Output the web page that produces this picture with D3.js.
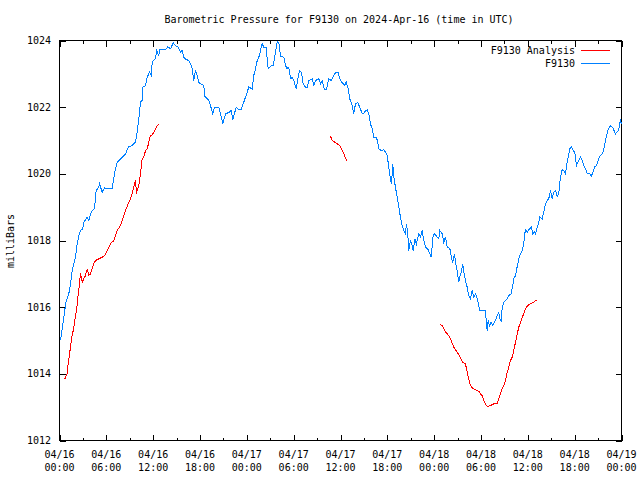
<!DOCTYPE html>
<html>
<head>
<meta charset="utf-8">
<script src="https://cdn.jsdelivr.net/npm/d3@7"></script>
<style>
html,body{margin:0;padding:0;background:#fff;}
svg{display:block;}
text{font-family:"DejaVu Sans Mono","Liberation Mono",monospace;font-size:10px;fill:#000;}
</style>
</head>
<body>
<svg id="chart" width="640" height="480"></svg>
<script>
// ---- data (hours since 2024-04-16 00:00 UTC) ----
const chartTitle = "Barometric Pressure for F9130 on 2024-Apr-16 (time in UTC)";
const yLabel = "milliBars";
const seriesNames = ["F9130 Analysis", "F9130"];
const seriesColors = ["#ff0000", "#0080ff"];
const startTime = Date.UTC(2024, 3, 16, 0, 0);
const endTime = Date.UTC(2024, 3, 19, 0, 0);
const yTicks = [1012, 1014, 1016, 1018, 1020, 1022, 1024];

const obsHours = [0.13,0.68,0.77,1.19,1.41,1.63,2.05,2.27,2.47,2.69,2.98,3.11,3.55,3.75,3.97,4.19,4.48,4.61,4.70,5.03,5.12,5.47,5.80,5.89,6.75,6.83,7.08,7.39,8.03,8.46,8.80,9.31,9.74,9.95,10.16,10.38,10.59,10.67,11.02,11.24,11.53,11.75,11.88,12.13,12.30,12.43,12.72,12.85,13.58,13.87,14.22,14.57,14.86,15.21,15.50,15.72,15.92,16.23,16.56,16.78,17.00,17.20,17.42,17.64,17.85,18.06,18.49,18.58,19.13,19.34,19.64,19.86,20.41,20.63,20.92,21.27,21.78,22.00,22.20,22.64,22.97,23.28,23.83,24.25,24.69,24.89,25.11,25.33,25.62,25.84,25.97,26.17,26.48,26.61,26.74,27.12,27.38,27.67,27.89,28.09,28.31,28.73,28.95,29.17,29.30,29.46,29.59,29.81,30.02,30.32,30.53,30.75,31.00,31.22,31.51,31.73,31.94,32.37,32.58,32.80,33.22,33.44,33.65,33.95,34.20,34.50,34.81,35.01,35.36,35.70,36.00,36.34,36.51,36.73,36.98,37.19,37.50,37.70,37.92,38.21,38.47,38.78,38.98,39.20,39.42,39.62,39.84,40.06,40.26,40.61,40.78,40.90,41.21,41.54,41.76,41.98,42.19,42.40,42.53,42.70,42.83,43.04,43.26,43.47,43.68,43.90,44.11,44.32,44.45,44.62,44.75,44.97,45.18,45.31,45.52,45.73,46.03,46.25,46.46,46.67,46.89,47.18,47.44,47.62,47.87,48.08,48.39,48.59,48.72,49.03,49.23,49.45,49.67,49.87,50.09,50.22,50.38,50.60,50.73,50.95,51.15,51.28,51.46,51.67,51.79,52.01,52.23,52.43,52.65,52.87,53.07,53.29,53.59,53.84,54.57,54.70,54.79,54.92,55.09,55.30,55.51,55.85,56.07,56.28,56.40,56.58,56.71,56.92,57.26,57.56,57.86,58.03,58.20,58.42,58.64,58.84,59.06,59.28,59.48,59.61,59.70,59.92,60.12,60.47,60.63,60.85,60.98,61.20,61.40,61.53,61.84,62.04,62.26,62.48,62.68,62.90,63.12,63.32,63.54,63.76,63.96,64.09,64.27,64.40,64.60,64.82,65.04,65.17,65.37,65.55,65.81,66.01,66.23,66.40,66.74,66.96,67.16,67.38,67.60,67.93,68.11,68.36,68.53,68.79,69.09,69.30,69.60,69.82,70.04,70.24,70.59,70.85,71.23,71.61,71.86,72.0];
const obsValues = [1015.0,1015.9,1016.1,1016.4,1016.7,1017.1,1017.5,1017.9,1018.15,1018.3,1018.35,1018.55,1018.7,1018.6,1018.8,1018.9,1018.95,1019.3,1019.5,1019.6,1019.7,1019.45,1019.6,1019.55,1019.55,1019.7,1020.05,1020.35,1020.5,1020.6,1020.8,1020.85,1020.95,1021.25,1021.65,1022.15,1022.2,1022.6,1022.65,1022.9,1023.05,1022.95,1023.35,1023.43,1023.45,1023.7,1023.55,1023.73,1023.73,1023.81,1023.75,1023.93,1023.85,1023.8,1023.65,1023.7,1023.5,1023.43,1023.4,1023.3,1023.15,1022.8,1023.1,1022.95,1022.75,1022.7,1022.65,1022.33,1022.2,1022.05,1021.8,1022.0,1022.0,1021.8,1021.5,1021.8,1021.85,1021.9,1021.63,1022.0,1021.93,1021.93,1022.3,1022.6,1022.55,1022.95,1023.15,1023.4,1023.55,1023.8,1023.9,1023.8,1023.8,1023.45,1023.15,1023.25,1023.25,1023.65,1023.97,1023.95,1023.53,1023.5,1023.25,1023.15,1023.2,1023.1,1022.85,1022.9,1022.8,1022.55,1022.85,1023.1,1023.05,1022.7,1022.6,1022.6,1022.8,1022.85,1022.65,1022.8,1022.85,1022.7,1022.8,1022.53,1022.53,1022.85,1022.8,1022.9,1023.03,1023.03,1022.8,1022.7,1022.65,1022.75,1022.55,1022.25,1022.05,1021.8,1022.1,1022.13,1022.0,1021.8,1021.8,1021.9,1021.92,1021.8,1021.5,1021.35,1021.1,1021.08,1020.95,1020.75,1020.7,1020.72,1020.65,1020.55,1020.2,1019.85,1019.7,1020.3,1019.9,1019.6,1019.3,1019.0,1018.7,1018.45,1018.3,1018.2,1018.5,1018.2,1017.7,1018.0,1017.85,1017.7,1018.05,1017.9,1018.2,1018.1,1018.3,1018.0,1017.8,1017.75,1017.6,1017.5,1018.15,1018.2,1018.1,1018.05,1018.3,1018.2,1017.95,1018.1,1017.8,1017.8,1017.7,1017.45,1017.35,1017.6,1017.35,1017.1,1016.75,1016.9,1017.05,1017.3,1017.05,1016.8,1016.6,1016.35,1016.25,1016.5,1016.3,1016.4,1016.2,1015.9,1015.9,1015.5,1015.3,1015.6,1015.45,1015.55,1015.45,1015.6,1015.75,1015.85,1015.65,1015.6,1015.95,1016.15,1016.22,1016.35,1016.4,1016.6,1016.85,1016.95,1017.22,1017.45,1017.6,1017.7,1017.9,1018.2,1018.32,1018.25,1018.32,1018.4,1018.2,1018.25,1018.2,1018.4,1018.55,1018.7,1018.65,1018.85,1019.1,1019.2,1019.25,1019.5,1019.25,1019.45,1019.5,1019.32,1019.4,1019.75,1020.0,1020.12,1020.1,1020.0,1020.35,1020.5,1020.75,1020.82,1020.7,1020.65,1020.25,1020.35,1020.5,1020.4,1020.25,1020.15,1020.02,1020.0,1019.92,1020.05,1020.2,1020.25,1020.45,1020.55,1020.62,1020.85,1021.1,1021.3,1021.45,1021.4,1021.2,1021.3,1021.6,1021.5];

// analysis series: null values mark gaps
const anaHours = [0.68,0.99,1.11,1.32,1.54,1.76,1.96,2.14,2.27,2.40,2.56,2.69,2.91,3.11,3.33,3.55,3.75,3.97,4.19,4.39,4.61,5.03,5.47,5.80,6.11,6.53,6.96,7.17,7.39,7.81,8.03,8.24,8.46,8.80,9.10,9.31,9.52,9.74,9.86,9.95,10.16,10.38,10.59,10.80,11.02,11.24,11.44,11.66,11.88,12.08,12.30,12.52,12.81,
  20.0,
  34.72,34.93,35.27,35.58,35.91,36.22,36.42,36.64,36.86,
  42.0,
  48.72,49.03,49.23,49.58,49.87,50.18,50.51,50.86,51.15,51.37,51.67,52.01,52.23,52.43,52.65,52.87,53.29,53.71,53.93,54.15,54.36,54.66,54.92,55.21,55.64,56.07,56.28,56.49,56.71,56.92,57.14,57.36,57.56,57.78,57.99,58.20,58.42,58.64,58.84,59.06,59.28,59.48,59.70,59.99,60.34,60.76,60.98,61.23];
const anaValues = [1013.85,1014.0,1014.3,1014.65,1015.05,1015.3,1015.6,1015.85,1016.1,1016.4,1016.7,1017.02,1016.75,1016.85,1016.95,1017.15,1016.95,1017.0,1017.15,1017.3,1017.4,1017.45,1017.5,1017.55,1017.7,1017.9,1018.0,1018.15,1018.3,1018.45,1018.6,1018.75,1018.9,1019.1,1019.25,1019.4,1019.6,1019.8,1019.4,1019.5,1019.65,1020.0,1020.45,1020.5,1020.7,1020.75,1020.95,1021.15,1021.17,1021.25,1021.35,1021.45,1021.5,
  null,
  1021.13,1021.0,1020.95,1020.9,1020.85,1020.7,1020.6,1020.47,1020.38,
  null,
  1015.48,1015.45,1015.35,1015.22,1015.15,1015.0,1014.8,1014.68,1014.58,1014.48,1014.35,1014.3,1014.05,1013.85,1013.65,1013.58,1013.52,1013.48,1013.4,1013.35,1013.2,1013.05,1013.02,1013.05,1013.1,1013.12,1013.25,1013.4,1013.55,1013.65,1013.8,1014.05,1014.2,1014.4,1014.5,1014.7,1014.95,1015.2,1015.4,1015.55,1015.7,1015.8,1015.95,1016.05,1016.1,1016.15,1016.2,1016.22];

// ---- layout ----
const svg = d3.select("#chart");
const L = 59.5, R = 621.5, T = 40.5, B = 440.5;
const HOUR = 3600 * 1000;

const x = d3.scaleUtc().domain([new Date(startTime), new Date(endTime)]).range([L, R]);
const y = d3.scaleLinear().domain([1012, 1024]).range([B, T]);

const toDate = h => new Date(startTime + h * HOUR);
const obs = obsHours.map((h, i) => ({t: toDate(h), v: obsValues[i]}));
const ana = anaHours.map((h, i) => ({t: toDate(h), v: anaValues[i]}));

// title
svg.append("text").attr("x", 339).attr("y", 23).attr("text-anchor", "middle").text(chartTitle);

// y label
svg.append("text").attr("transform", "translate(14,241) rotate(-90)")
  .attr("text-anchor", "middle").text(yLabel);

const majorTicks = d3.utcHour.every(6).range(new Date(startTime), new Date(endTime + 1));
const minorTicks = d3.utcHour.every(3).range(new Date(startTime), new Date(endTime + 1))
  .filter(d => d.getUTCHours() % 6 !== 0);

// axes with inward ticks
const gAxes = svg.append("g").attr("shape-rendering", "crispEdges").attr("stroke", "#000").attr("stroke-width", 1);
const bottomAxis = d3.axisBottom(x).tickValues(majorTicks).tickSize(-6).tickFormat("");
const bottomMinor = d3.axisBottom(x).tickValues(minorTicks).tickSize(-3).tickFormat("");
const topAxis = d3.axisTop(x).tickValues(majorTicks).tickSize(-6).tickFormat("");
const topMinor = d3.axisTop(x).tickValues(minorTicks).tickSize(-3).tickFormat("");
const leftAxis = d3.axisLeft(y).tickValues(yTicks).tickSize(-6).tickFormat("");
const rightAxis = d3.axisRight(y).tickValues(yTicks).tickSize(-6).tickFormat("");

[[bottomAxis, `translate(0,${B})`], [bottomMinor, `translate(0,${B})`],
 [topAxis, `translate(0,${T})`], [topMinor, `translate(0,${T})`],
 [leftAxis, `translate(${L},0)`], [rightAxis, `translate(${R},0)`]].forEach(([ax, tr]) => {
  const g = gAxes.append("g").attr("transform", tr).call(ax);
  g.select(".domain").remove();
  g.selectAll(".tick line").attr("stroke", "#000");
});

gAxes.append("rect").attr("x", L).attr("y", T).attr("width", R - L).attr("height", B - T)
  .attr("fill", "none").attr("stroke", "#000");

// x tick labels (two lines)
const fmtD = d3.utcFormat("%m/%d"), fmtT = d3.utcFormat("%H:%M");
const xl = svg.append("g").selectAll("text").data(majorTicks).join("text")
  .attr("text-anchor", "middle").attr("x", d => x(d));
xl.append("tspan").attr("x", d => x(d)).attr("y", 458).text(fmtD);
xl.append("tspan").attr("x", d => x(d)).attr("y", 471).text(fmtT);

// y tick labels
svg.append("g").selectAll("text").data(yTicks).join("text")
  .attr("text-anchor", "end").attr("x", 51).attr("y", d => y(d) + 3.5).text(d => d);

// clip
svg.append("clipPath").attr("id", "clip").append("rect")
  .attr("x", L).attr("y", T - 1).attr("width", R - L + 1).attr("height", B - T + 2);

const line = d3.line().defined(d => d.v !== null).x(d => x(d.t)).y(d => y(d.v));
const gLines = svg.append("g").attr("clip-path", "url(#clip)");
gLines.append("path").datum(ana).attr("d", line).attr("fill", "none")
  .attr("stroke", seriesColors[0]).attr("stroke-width", 1).attr("shape-rendering", "crispEdges");
gLines.append("path").datum(obs).attr("d", line).attr("fill", "none")
  .attr("stroke", seriesColors[1]).attr("stroke-width", 1).attr("shape-rendering", "crispEdges");

// legend
const legend = svg.append("g");
seriesNames.forEach((name, i) => {
  const ly = 50 + i * 13;
  legend.append("text").attr("x", 575).attr("y", ly + 3.5).attr("text-anchor", "end").text(name);
  legend.append("line").attr("x1", 581).attr("x2", 610).attr("y1", ly + 0.5).attr("y2", ly + 0.5)
    .attr("stroke", seriesColors[i]).attr("shape-rendering", "crispEdges");
});
</script>
</body>
</html>
